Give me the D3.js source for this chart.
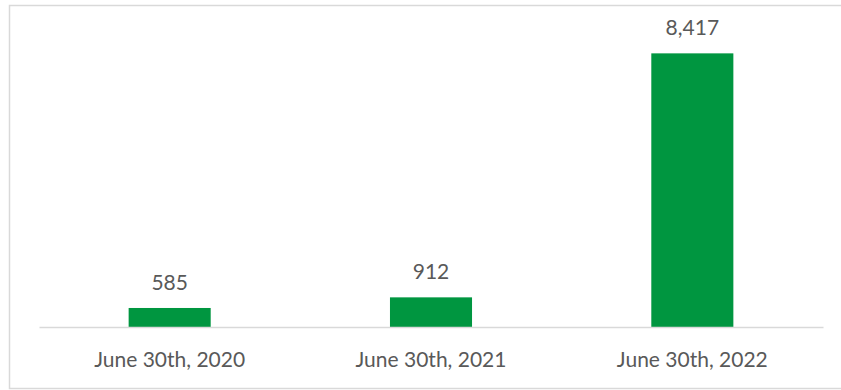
<!DOCTYPE html>
<html>
<head>
<meta charset="utf-8">
<script src="https://cdn.jsdelivr.net/npm/d3@7"></script>
<style>
  html, body { margin: 0; padding: 0; background: #fff; }
  svg { display: block; }
</style>
</head>
<body>
<svg id="chart" width="841" height="390"></svg>
<script>
// Period-end counts
const categories = ["June 30th, 2020", "June 30th, 2021", "June 30th, 2022"];
const values = [585, 912, 8417];
const yMax = 9000;

const W = 841, H = 390;
const plot = { left: 39, right: 823, top: 34.4, bottom: 327 };
const barFrac = 0.314;
const fontFamily = "Lato, 'Open Sans', sans-serif";
const textColor = "#595959";
const barColor = "#009640";
const lineColor = "#d9d9d9";

const svg = d3.select("#chart");

// Chart frame
svg.append("rect")
  .attr("x", 9.5).attr("y", 5.5)
  .attr("width", W + 10).attr("height", 383)
  .attr("fill", "#fff")
  .attr("stroke", lineColor).attr("stroke-width", 1.5);

const x = d3.scaleBand().domain(categories).range([plot.left, plot.right]).padding(0);
const y = d3.scaleLinear().domain([0, yMax]).range([plot.bottom, plot.top]);
const bw = x.bandwidth() * barFrac;

// Bars
svg.append("g").selectAll("rect")
  .data(values)
  .join("rect")
  .attr("x", (d, i) => x(categories[i]) + (x.bandwidth() - bw) / 2)
  .attr("y", d => y(d))
  .attr("width", bw)
  .attr("height", d => y(0) - y(d))
  .attr("fill", barColor);

// Value labels
svg.append("g").selectAll("text")
  .data(values)
  .join("text")
  .attr("x", (d, i) => x(categories[i]) + x.bandwidth() / 2)
  .attr("y", d => y(d) - 18)
  .attr("text-anchor", "middle")
  .attr("font-family", fontFamily)
  .attr("font-size", 21)
  .attr("fill", textColor)
  .text(d => d3.format(",")(d));

// Category axis
const xAxis = svg.append("g")
  .attr("transform", `translate(0,${plot.bottom})`)
  .call(d3.axisBottom(x).tickSize(0).tickPadding(0));
xAxis.select(".domain").attr("stroke", lineColor).attr("stroke-width", 1.5);
xAxis.selectAll("text")
  .attr("dy", null)
  .attr("y", 39.5)
  .attr("font-family", fontFamily)
  .attr("font-size", 21)
  .attr("fill", textColor);
</script>
</body>
</html>
